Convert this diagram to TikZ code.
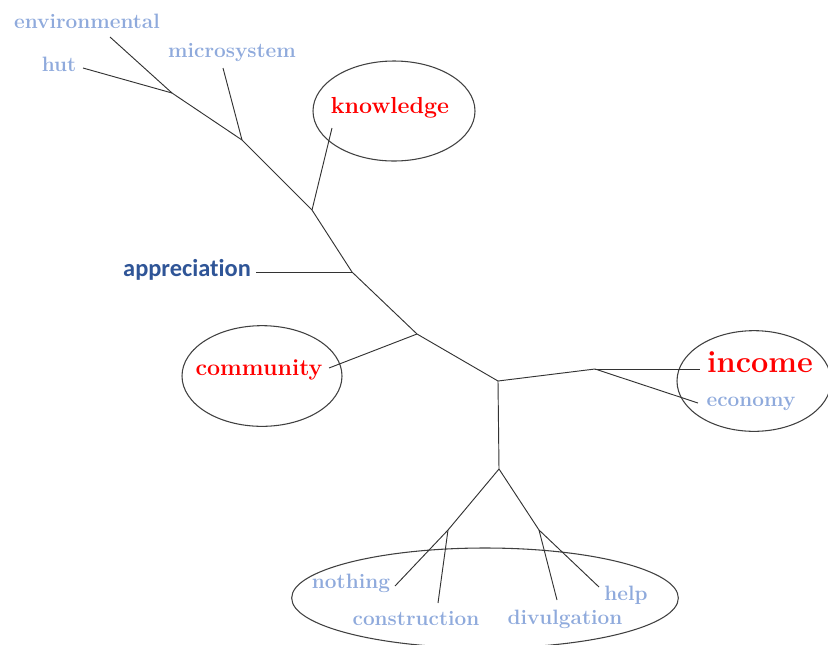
\documentclass[tikz,border=0pt]{standalone}
\usepackage{fontspec}
\setsansfont{Carlito}[Ligatures=NoCommon]
\usetikzlibrary{shapes.geometric}
\definecolor{lblue}{HTML}{8FAADC}
\definecolor{dblue}{HTML}{2F5597}
\definecolor{lred}{HTML}{FF0000}
\tikzset{
  lbl/.style={inner sep=0pt, font=\bfseries\fontsize{15.6}{17}\selectfont, text=lblue},
  key/.style={inner sep=0pt, font=\bfseries\fontsize{17.4}{19}\selectfont, text=lred},
  oval/.style={draw=black!75, line width=0.8pt, ellipse, inner sep=0pt},
  br/.style={draw=black!80, line width=0.7pt},
}
\begin{document}
\begin{tikzpicture}[x=0.75pt,y=-0.75pt]
\useasboundingbox (0,0) rectangle (828,644);
\begin{scope}
\clip (0,0) rectangle (828,644);
% ovals (sizes in pt = px * 0.75)
\node[oval, minimum width=121.5pt, minimum height=75pt] (ok) at (394,111) {};
\node[oval, minimum width=120pt, minimum height=75.5pt] (oc) at (262,376) {};
\node[oval, minimum width=115.5pt, minimum height=75.5pt] (oi) at (754,381) {};
\node[oval, minimum width=290pt, minimum height=75pt] (ob) at (485,598) {};
\end{scope}
% texts
\node[lbl] (env) at (87,21) {environmental};
\node[lbl] (hut) at (59,64) {hut};
\node[lbl] (mic) at (232,53) {microsystem};
\node[key] (kno) at (390,108) {knowledge};
\node[inner sep=0pt, font=\sffamily\bfseries\fontsize{18.3}{20}\selectfont, text=dblue] (app) at (187,270) {appreciation};
\node[key] (com) at (259,370) {community};
\node[inner sep=0pt, font=\bfseries\fontsize{23}{26}\selectfont, text=lred] (inc) at (760,362) {income};
\node[lbl] (eco) at (751,404) {economy};
\node[lbl] (not) at (351,583) {nothing};
\node[lbl] (con) at (416,618) {construction};
\node[lbl] (div) at (565,619) {divulgation};
\node[lbl] (hel) at (626,595) {help};
% junctions
\coordinate (j1) at (172,93);
\coordinate (j2) at (242,140);
\coordinate (j3) at (312,210);
\coordinate (j4) at (352,272);
\coordinate (j5) at (417,334);
\coordinate (j6) at (498,381);
\coordinate (j7) at (595,369);
\coordinate (j8) at (499,469);
\coordinate (j9) at (448,530);
\coordinate (j10) at (539,530);
% free ends
\coordinate (eenv) at (110,37);
\coordinate (ehut) at (83,68);
\coordinate (emic) at (223,68);
\coordinate (ekno) at (332,128);
\coordinate (eapp) at (256,272);
\coordinate (ecom) at (329,368);
\coordinate (einc) at (700,369);
\coordinate (eeco) at (698,403);
\coordinate (enot) at (395,586);
\coordinate (econ) at (438,603);
\coordinate (ediv) at (557,600);
\coordinate (ehel) at (599,587);
% branches
\draw[br] (eenv) -- (j1);
\draw[br] (ehut) -- (j1);
\draw[br] (j1) -- (j2) -- (j3) -- (j4) -- (j5) -- (j6);
\draw[br] (emic) -- (j2);
\draw[br] (ekno) -- (j3);
\draw[br] (eapp) -- (j4);
\draw[br] (ecom) -- (j5);
\draw[br] (j6) -- (j7);
\draw[br] (j7) -- (einc);
\draw[br] (j7) -- (eeco);
\draw[br] (j6) -- (j8);
\draw[br] (j8) -- (j9) -- (enot);
\draw[br] (j9) -- (econ);
\draw[br] (j8) -- (j10) -- (ehel);
\draw[br] (j10) -- (ediv);
\end{tikzpicture}
\end{document}
